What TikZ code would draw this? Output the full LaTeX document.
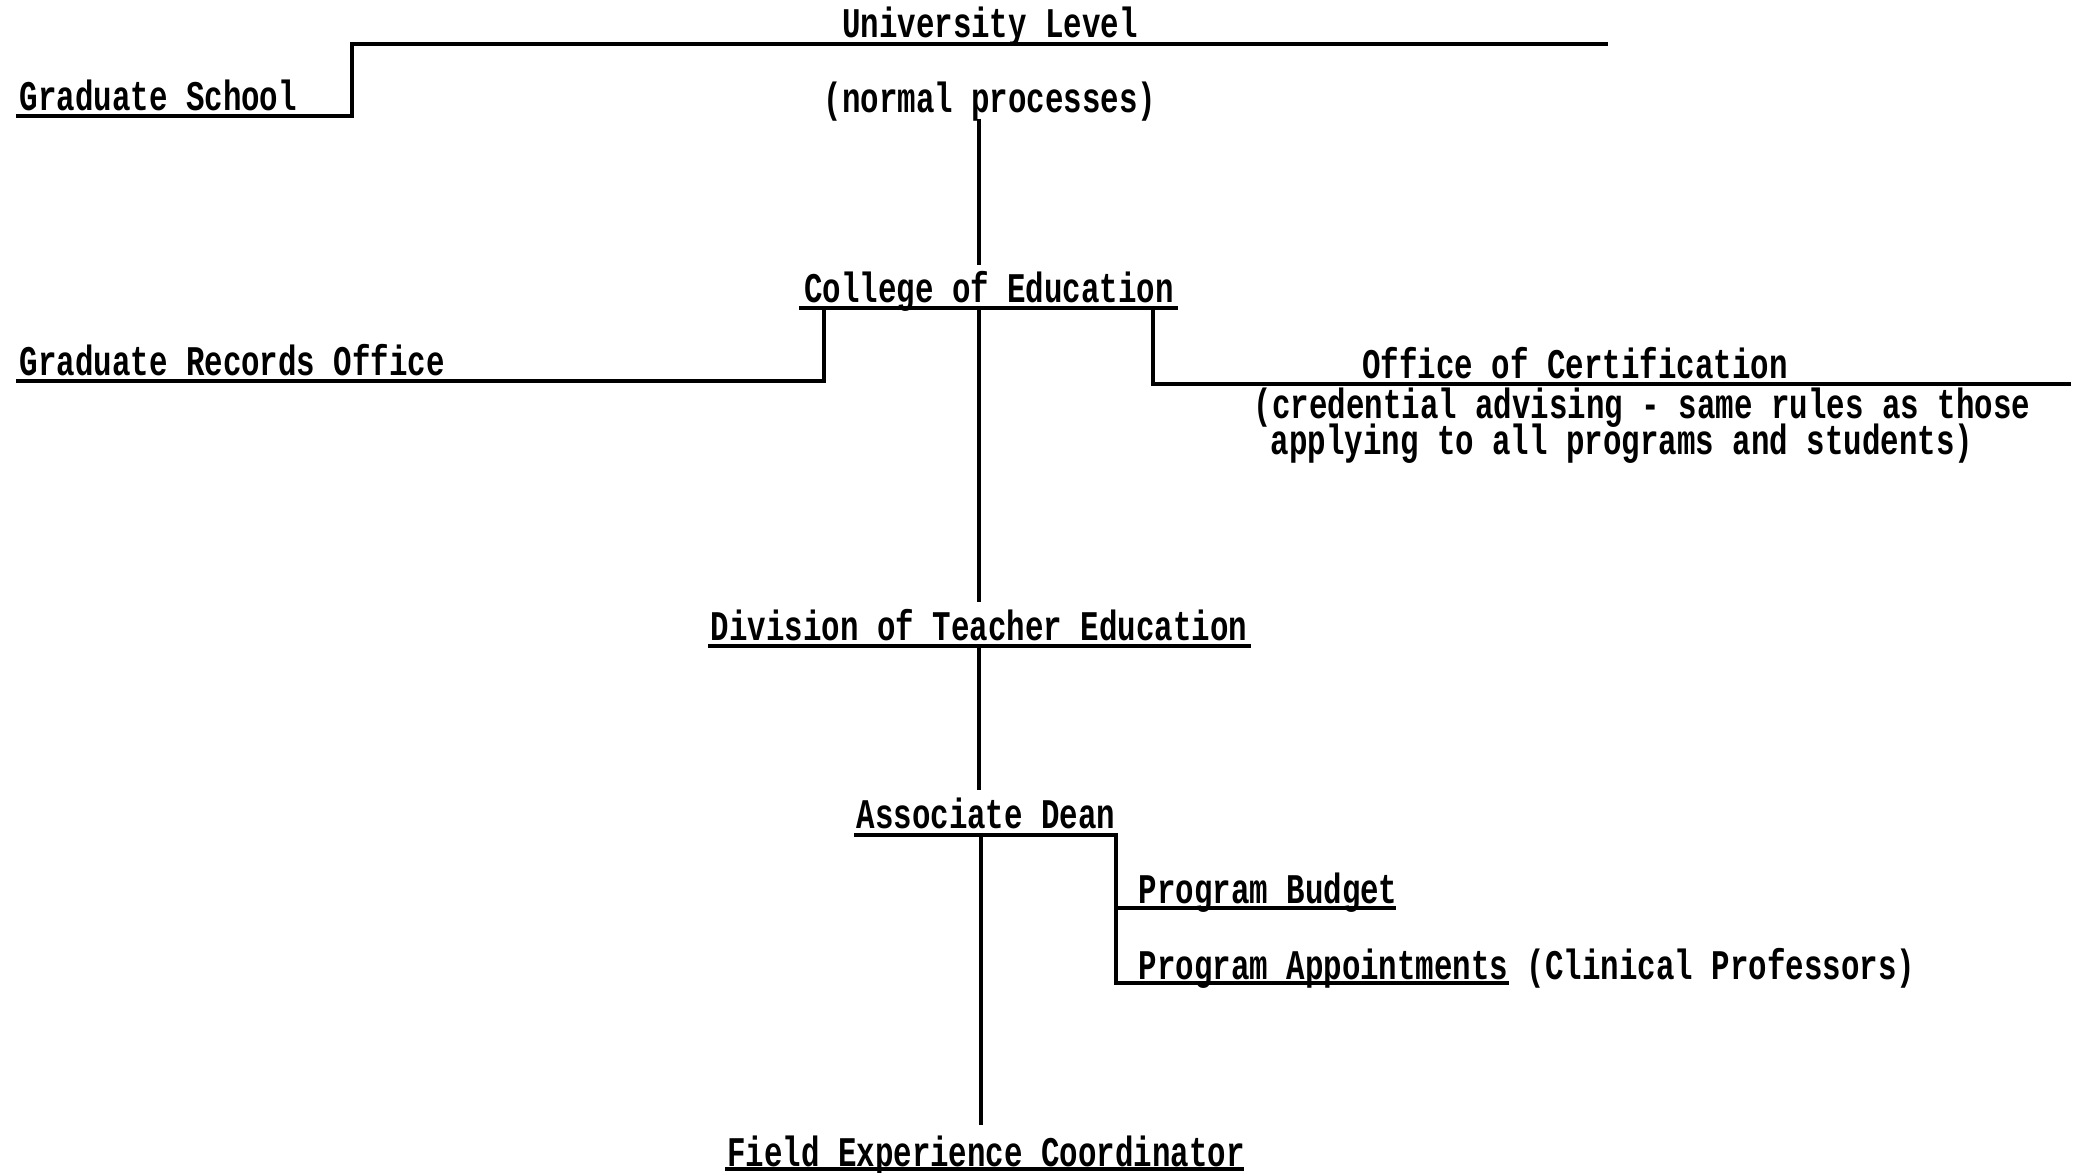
\documentclass[tikz,border=0pt]{standalone}
\usepackage{fontspec}
\newfontfamily\tw[FakeStretch=0.73]{Liberation Mono}
\usetikzlibrary{positioning}

\tikzset{
  lbl/.style={font=\tw\bfseries\fontsize{12}{14}\selectfont, inner sep=0pt, anchor=base},
  lblw/.style={lbl, anchor=base west},
  rule/.style={line width=1.1pt}
}

\begin{document}
\begin{tikzpicture}[x=0.01cm,y=-0.01cm]
\useasboundingbox (0,0) rectangle (2075,1173);
% labels
\node[lbl] (uni) at (990,38) {University Level};
\node[lblw] (grad) at (19,111) {Graduate School};
\node[lbl] (norm) at (990,113) {(normal processes)};
\node[lbl] (coe) at (989,302) {College of Education};
\node[lblw] (rec) at (19,375) {Graduate Records Office};
\node[lbl] (cert) at (1575,379) {Office of Certification};
\node[lblw] (cred1) at (1253,418) {(credential advising - same rules as those};
\node[lblw] (cred2) at (1270,455) {applying to all programs and students)};
\node[lbl] (dte) at (979,640) {Division of Teacher Education};
\node[lbl] (dean) at (986,828) {Associate Dean};
\node[lblw] (budget) at (1138,903) {Program Budget};
\node[lblw] (appt) at (1138,979) {Program Appointments (Clinical Professors)};
\node[lbl] (field) at (986,1166) {Field Experience Coordinator};

% rule corners
\coordinate (uniL) at (352,44);
\coordinate (uniR) at (1608,44);
\coordinate (gradL) at (16,116);
\coordinate (coeL) at (799,308);
\coordinate (coeR) at (1178,308);
\coordinate (recL) at (16,381);
\coordinate (recK) at (824,308);
\coordinate (certK) at (1153,308);
\coordinate (certR) at (2071,384);
\coordinate (dteL) at (708,646);
\coordinate (dteR) at (1251,646);
\coordinate (deanL) at (854,835);
\coordinate (deanR) at (1118,835);
\coordinate (subK) at (1116,835);
\coordinate (budR) at (1396,908);
\coordinate (apptR) at (1509,983);
\coordinate (fieldL) at (725,1169);
\coordinate (fieldR) at (1244,1169);

% university level
\draw[rule] (gradL) -| (uniL) -- (uniR);
\draw[rule] (979,119) -- (979,265);
% college of education
\draw[rule] (coeL) -- (coeR);
\draw[rule] (recL) -| (recK);
\draw[rule] (certK) |- (certR);
\draw[rule] (979,308) -- (979,602);
% division
\draw[rule] (dteL) -- (dteR);
\draw[rule] (979,646) -- (979,790);
% associate dean
\draw[rule] (deanL) -- (deanR);
\draw[rule] (981,835) -- (981,1125);
\draw[rule] (subK) |- (budR);
\draw[rule] (subK) |- (apptR);
% field experience
\draw[rule] (fieldL) -- (fieldR);
\end{tikzpicture}
\end{document}
